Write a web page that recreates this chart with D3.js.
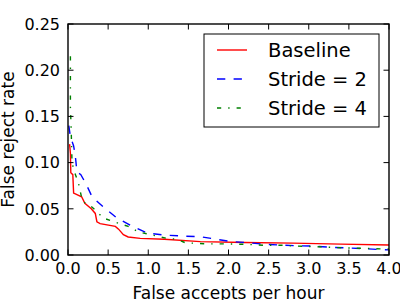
<!DOCTYPE html>
<html>
<head>
<meta charset="utf-8">
<script src="https://cdn.jsdelivr.net/npm/d3@7"></script>
<style>
  body { margin: 0; background: #fff; }
  text { font-family: "DejaVu Sans", sans-serif; fill: #000; }
</style>
</head>
<body>
<div id="chart"></div>
<script>
// series
const baselineX = [0.02, 0.03, 0.035, 0.06, 0.07, 0.17, 0.21, 0.29, 0.34, 0.36, 0.40, 0.59, 0.63, 0.69, 0.75, 0.90, 1.20, 1.65, 2.20, 2.80, 3.40, 4.00];
const baselineY = [0.120, 0.110, 0.089, 0.087, 0.067, 0.063, 0.056, 0.050, 0.045, 0.036, 0.034, 0.031, 0.028, 0.022, 0.0195, 0.018, 0.017, 0.0145, 0.0135, 0.0128, 0.0118, 0.0108];

const stride2X = [0.01, 0.03, 0.07, 0.09, 0.10, 0.11, 0.16, 0.23, 0.30, 0.44, 0.61, 0.78, 0.98, 1.19, 1.45, 1.65, 1.85, 2.05, 2.25, 2.45, 2.65, 2.85, 3.05, 3.28, 3.50, 3.70, 3.90, 4.00];
const stride2Y = [0.140, 0.128, 0.118, 0.108, 0.100, 0.090, 0.087, 0.076, 0.063, 0.052, 0.040, 0.032, 0.024, 0.0216, 0.0204, 0.0198, 0.017, 0.0144, 0.0133, 0.0116, 0.0108, 0.010, 0.0097, 0.0083, 0.0076, 0.0069, 0.0058, 0.0055];

const stride4X = [0.03, 0.03, 0.04, 0.05, 0.08, 0.13, 0.18, 0.27, 0.36, 0.44, 0.57, 0.75, 0.88, 1.10, 1.23, 1.36, 1.46, 1.60, 1.75, 1.95, 2.20, 2.45, 2.70, 2.85, 3.10, 3.45, 3.70, 3.95, 4.00];
const stride4Y = [0.215, 0.16, 0.135, 0.100, 0.090, 0.078, 0.058, 0.054, 0.047, 0.040, 0.036, 0.031, 0.025, 0.0206, 0.018, 0.017, 0.0133, 0.0126, 0.012, 0.012, 0.0116, 0.0105, 0.0105, 0.0097, 0.009, 0.0076, 0.0072, 0.0065, 0.0065];

const seriesNames = ["Baseline", "Stride = 2", "Stride = 4"];
const xTicks = [0, 0.5, 1, 1.5, 2, 2.5, 3, 3.5, 4];
const yTicks = [0, 0.05, 0.10, 0.15, 0.20, 0.25];

const width = 400, height = 300;
const plotLeft = 68, plotRight = 389, plotTop = 24, plotBottom = 255;

const svg = d3.select("#chart").append("svg")
  .attr("width", width)
  .attr("height", height);

const x = d3.scaleLinear().domain([0, 4]).range([plotLeft, plotRight]);
const y = d3.scaleLinear().domain([0, 0.25]).range([plotBottom, plotTop]);

const styles = [
  { color: "#ff0000", dash: null },
  { color: "#0000ff", dash: "8.3,8.3" },
  { color: "#008000", dash: "4.2,7,1.4,7" }
];

const series = [
  d3.zip(baselineX, baselineY),
  d3.zip(stride2X, stride2Y),
  d3.zip(stride4X, stride4Y)
];

svg.append("clipPath").attr("id", "plot")
  .append("rect")
  .attr("x", plotLeft).attr("y", plotTop)
  .attr("width", plotRight - plotLeft).attr("height", plotBottom - plotTop);

const line = d3.line().x(d => x(d[0])).y(d => y(d[1]));

svg.append("g").attr("clip-path", "url(#plot)")
  .selectAll("path")
  .data(series)
  .enter()
  .append("path")
  .attr("d", line)
  .attr("fill", "none")
  .attr("stroke", (d, i) => styles[i].color)
  .attr("stroke-width", 1.4)
  .attr("stroke-dasharray", (d, i) => styles[i].dash);

// ticks pointing inward on all four sides
const tickLen = 5.5;
const ticks = svg.append("g").attr("stroke", "#000").attr("stroke-width", 1);
xTicks.forEach(t => {
  ticks.append("line").attr("x1", x(t)).attr("x2", x(t)).attr("y1", plotBottom).attr("y2", plotBottom - tickLen);
  ticks.append("line").attr("x1", x(t)).attr("x2", x(t)).attr("y1", plotTop).attr("y2", plotTop + tickLen);
});
yTicks.forEach(t => {
  ticks.append("line").attr("x1", plotLeft).attr("x2", plotLeft + tickLen).attr("y1", y(t)).attr("y2", y(t));
  ticks.append("line").attr("x1", plotRight).attr("x2", plotRight - tickLen).attr("y1", y(t)).attr("y2", y(t));
});

svg.append("g").selectAll("text")
  .data(xTicks)
  .enter()
  .append("text")
  .attr("x", d => x(d))
  .attr("y", 274)
  .attr("text-anchor", "middle")
  .style("font-size", "16px")
  .text(d => d3.format(".1f")(d));

svg.append("g").selectAll("text")
  .data(yTicks)
  .enter()
  .append("text")
  .attr("x", 60)
  .attr("y", d => y(d) + 5.8)
  .attr("text-anchor", "end")
  .style("font-size", "16px")
  .text(d => d3.format(".2f")(d));

svg.append("rect")
  .attr("x", plotLeft).attr("y", plotTop)
  .attr("width", plotRight - plotLeft).attr("height", plotBottom - plotTop)
  .attr("fill", "none")
  .attr("stroke", "#000")
  .attr("stroke-width", 1.4);

svg.append("text")
  .attr("x", (plotLeft + plotRight) / 2)
  .attr("y", 299)
  .attr("text-anchor", "middle")
  .style("font-size", "17px")
  .text("False accepts per hour");

svg.append("text")
  .attr("transform", "translate(13.5," + (plotTop + plotBottom) / 2 + ")rotate(-90)")
  .attr("text-anchor", "middle")
  .style("font-size", "17px")
  .text("False reject rate");

// legend
const legend = svg.append("g");
legend.append("rect")
  .attr("x", 204).attr("y", 34)
  .attr("width", 175).attr("height", 93)
  .attr("fill", "#fff")
  .attr("stroke", "#000")
  .attr("stroke-width", 1);

const rowY = [50, 79, 108];
seriesNames.forEach((name, i) => {
  legend.append("line")
    .attr("x1", 217).attr("x2", 247)
    .attr("y1", rowY[i]).attr("y2", rowY[i])
    .attr("stroke", styles[i].color)
    .attr("stroke-width", 1.4)
    .attr("stroke-dasharray", styles[i].dash);
  legend.append("text")
    .attr("x", 268)
    .attr("y", rowY[i] + 7.2)
    .style("font-size", "19.5px")
    .text(name);
});
</script>
</body>
</html>
